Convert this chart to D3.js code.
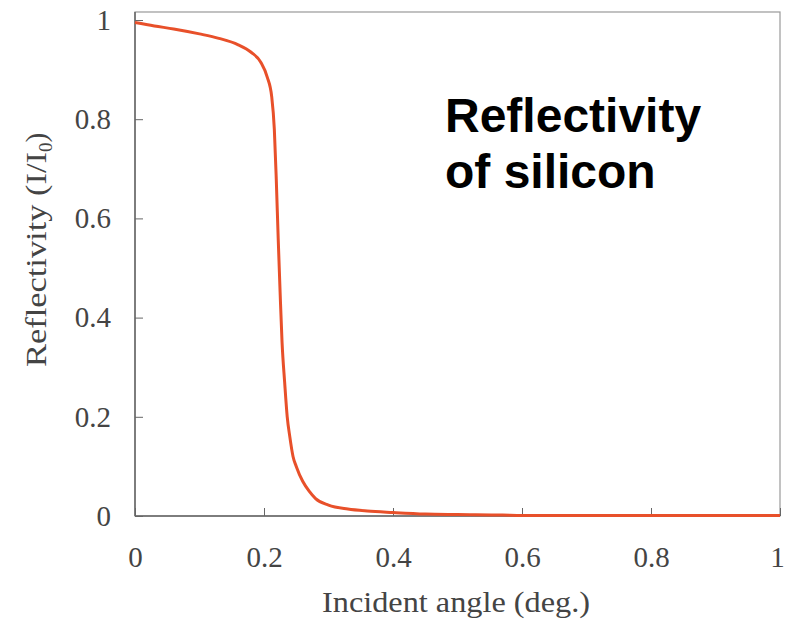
<!DOCTYPE html>
<html><head><meta charset="utf-8">
<script src="https://cdn.jsdelivr.net/npm/d3@7"></script>
<style>body{margin:0;background:#fff}</style></head>
<body><svg id="c" width="785" height="623"></svg>
<script>
const angle = [0,0.03,0.06,0.1,0.13,0.16,0.18,0.195,0.205,0.212,0.216,0.219,0.222,0.225,0.228,0.232,0.236,0.24,0.245,0.25,0.26,0.27,0.28,0.3,0.33,0.36,0.4,0.45,0.5,0.57,0.6,0.8,1];
const refl  = [0.995,0.988,0.982,0.972,0.963,0.95,0.935,0.915,0.885,0.845,0.78,0.68,0.56,0.45,0.35,0.27,0.2,0.16,0.12,0.1,0.07,0.05,0.035,0.022,0.014,0.01,0.007,0.004,0.003,0.002,0.001,0.001,0.001];
const xTicks = [0,0.2,0.4,0.6,0.8,1];
const yTicks = [0,0.2,0.4,0.6,0.8,1];
const svg = d3.select("#c");
const L=135,R=780,T=12,B=516;
const x = d3.scaleLinear().domain([0,1]).range([L,R]);
const y = d3.scaleLinear().domain([0,1]).range([B,20]);
svg.append("rect").attr("x",L).attr("y",T).attr("width",R-L).attr("height",B-T).attr("fill","none").attr("stroke","#999").attr("stroke-width",1.2);
svg.append("line").attr("x1",L).attr("x2",L).attr("y1",T).attr("y2",B).attr("stroke","#666").attr("stroke-width",1.5);
svg.append("line").attr("x1",L).attr("x2",R).attr("y1",B).attr("y2",B).attr("stroke","#666").attr("stroke-width",1.5);
const font="Liberation Serif, serif";
const gx = svg.append("g").attr("transform",`translate(0,${B})`).call(d3.axisBottom(x).tickValues(xTicks).tickSize(-8).tickPadding(38).tickFormat(d3.format("")));
const gy = svg.append("g").attr("transform",`translate(${L},0)`).call(d3.axisLeft(y).tickValues(yTicks).tickSize(-8).tickPadding(24).tickFormat(d3.format("")));
[gx,gy].forEach(g=>{g.select(".domain").remove();g.selectAll("line").attr("stroke","#666");g.selectAll("text").attr("font-family",font).attr("font-size",29).attr("fill","#444");});
gx.selectAll("text").attr("dy","0.45em");
gx.selectAll(".tick:last-of-type text").attr("x",-3);
svg.append("path").datum(angle.map((a,i)=>[a,refl[i]]))
 .attr("d",d3.line().x(d=>x(d[0])).y(d=>y(d[1])).curve(d3.curveMonotoneX))
 .attr("fill","none").attr("stroke","#e8502a").attr("stroke-width",3);
svg.append("text").attr("x",322).attr("y",612).attr("textLength",268).attr("lengthAdjust","spacingAndGlyphs").attr("font-family",font).attr("font-size",29).attr("fill","#444").text("Incident angle (deg.)");
const yl = svg.append("text").attr("transform","translate(46,367) rotate(-90)").attr("font-family",font).attr("font-size",29).attr("fill","#444");
yl.append("tspan").attr("textLength",215).attr("lengthAdjust","spacingAndGlyphs").text("Reflectivity (I/I");
yl.append("tspan").attr("font-size",19).attr("dy",6).text("0");
yl.append("tspan").attr("dy",-6).text(")");
svg.append("text").attr("x",445).attr("y",132).attr("font-family","Liberation Sans, Arial, sans-serif").attr("font-weight","bold").attr("font-size",48).text("Reflectivity");
svg.append("text").attr("x",445).attr("y",188).attr("font-family","Liberation Sans, Arial, sans-serif").attr("font-weight","bold").attr("font-size",48).text("of silicon");
</script></body></html>
